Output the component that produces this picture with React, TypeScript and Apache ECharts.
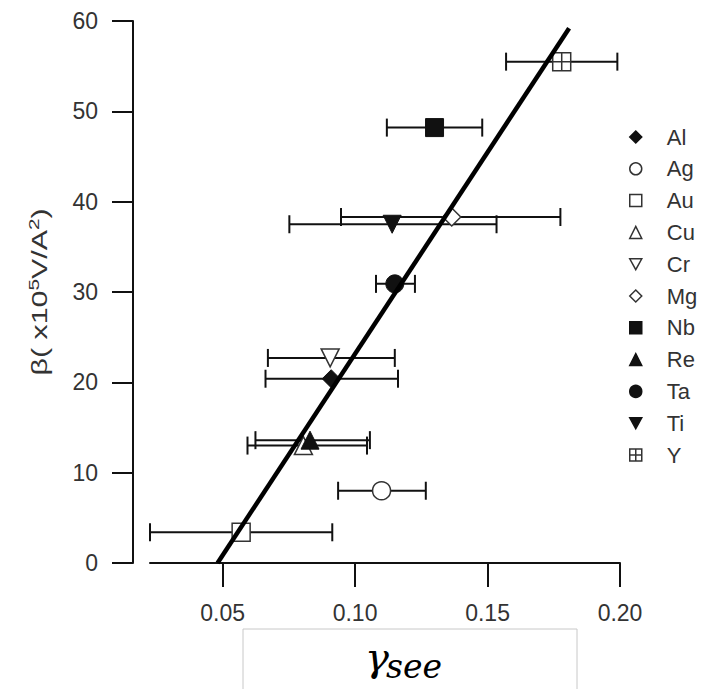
import React, { useEffect, useRef } from "react";
import * as echarts from "echarts";

const metals = ["Al", "Ag", "Au", "Cu", "Cr", "Mg", "Nb", "Re", "Ta", "Ti", "Y"];
const gammaSee = [0.091, 0.110, 0.057, 0.0805, 0.0906, 0.1365, 0.130, 0.083, 0.115, 0.114, 0.178];
const beta = [20.4, 8.0, 3.4, 13.0, 22.7, 38.3, 48.2, 13.6, 30.9, 37.5, 55.5];
const errLow = [0.0662, 0.0936, 0.0226, 0.0594, 0.0671, 0.0947, 0.112, 0.0624, 0.1079, 0.0752, 0.157];
const errHigh = [0.1162, 0.1267, 0.0914, 0.1045, 0.115, 0.1775, 0.148, 0.1056, 0.1226, 0.1534, 0.199];
const fitX = [0.0481, 0.1808];
const fitY = [0, 59.2];
const xTicks = [0.05, 0.1, 0.15, 0.2];

const DOWN_TRI = "path://M0,0L10,0L5,9Z";
const CROSS_SQ = "path://M0,0H10V10H0Z M5,0V10 M0,5H10";

const symbols: Record<string, { symbol: string; filled: boolean }> = {
  Al: { symbol: "diamond", filled: true },
  Ag: { symbol: "circle", filled: false },
  Au: { symbol: "rect", filled: false },
  Cu: { symbol: "triangle", filled: false },
  Cr: { symbol: DOWN_TRI, filled: false },
  Mg: { symbol: "diamond", filled: false },
  Nb: { symbol: "rect", filled: true },
  Re: { symbol: "triangle", filled: true },
  Ta: { symbol: "circle", filled: true },
  Ti: { symbol: DOWN_TRI, filled: true },
  Y: { symbol: CROSS_SQ, filled: false },
};

const FONT = "Liberation Sans, Arial, sans-serif";

export default function App() {
  const ref = useRef<HTMLDivElement>(null);
  useEffect(() => {
    if (!ref.current) return;
    const chart = echarts.init(ref.current, undefined, { renderer: "svg" });

    const scatterSeries = metals.map((m, i) => {
      const s = symbols[m];
      return {
        name: m,
        type: "scatter",
        z: 3,
        symbol: s.symbol,
        symbolSize: 18,
        itemStyle: s.filled
          ? { color: "#111", borderColor: "#111", borderWidth: 1, opacity: 1 }
          : { color: "#fff", borderColor: "#333", borderWidth: 1.5, opacity: 1 },
        data: [[gammaSee[i], beta[i]]],
      };
    });

    const errData = metals.map((m, i) => [gammaSee[i], beta[i], errLow[i], errHigh[i]]);

    const option: any = {
      animation: false,
      grid: { left: 150, right: 93, top: 21, bottom: 126 },
      xAxis: {
        type: "value",
        min: 0.0226,
        max: 0.2,
        axisLine: { show: true, lineStyle: { color: "#111", width: 2 } },
        axisTick: { show: true, customValues: xTicks, length: 24, lineStyle: { color: "#111", width: 2 } },
        axisLabel: {
          customValues: xTicks,
          formatter: (v: number) => v.toFixed(2),
          fontSize: 23,
          color: "#333",
          fontFamily: FONT,
          margin: 38,
        },
        splitLine: { show: false },
      },
      yAxis: {
        type: "value",
        min: 0,
        max: 60,
        interval: 10,
        offset: 17,
        axisLine: { show: true, lineStyle: { color: "#111", width: 2 } },
        axisTick: { show: true, length: 21, lineStyle: { color: "#111", width: 2 } },
        axisLabel: {
          fontSize: 23,
          color: "#333",
          fontFamily: FONT,
          margin: 35,
        },
        splitLine: { show: false },
      },
      legend: {
        orient: "vertical",
        left: 624,
        top: 120,
        itemWidth: 12,
        itemHeight: 12,
        itemGap: 7.8,
        data: metals,
        itemStyle: { borderWidth: 1.5, opacity: 1 },
        textStyle: {
          fontSize: 22,
          color: "#333",
          fontFamily: FONT,
          lineHeight: 24,
          padding: [0, 0, 0, 20],
        },
      },
      graphic: [
        {
          type: "text",
          x: 40,
          y: 292,
          rotation: Math.PI / 2,
          scaleX: 1.38,
          style: {
            text: "{a|β( x10}{s|5}{a|V/A}{s|2}{a|)}",
            align: "center",
            verticalAlign: "middle",
            rich: {
              a: { fontSize: 22, fontFamily: FONT, fill: "#333", lineHeight: 26 },
              s: { fontSize: 15, fontFamily: FONT, fill: "#333", lineHeight: 15, verticalAlign: "top" },
            },
          },
        },
        {
          type: "rect",
          shape: { x: 243, y: 629, width: 334, height: 80 },
          style: { fill: "#fff", stroke: "#c8c8c8", lineWidth: 1 },
        },
        {
          type: "text",
          x: 365,
          y: 657,
          style: {
            text: "γ",
            align: "left",
            verticalAlign: "middle",
            fontSize: 40,
            fontFamily: "DejaVu Serif",
            fontStyle: "italic",
            fill: "#000",
          },
        },
        {
          type: "text",
          x: 386,
          y: 666,
          style: {
            text: "see",
            align: "left",
            verticalAlign: "middle",
            fontSize: 33,
            fontFamily: "DejaVu Serif",
            fontStyle: "italic",
            fill: "#000",
          },
        },
      ],
      series: [
        {
          name: "errors",
          type: "custom",
          z: 2,
          encode: { x: 0, y: 1 },
          data: errData,
          renderItem: (params: any, api: any) => {
            const y = api.value(1);
            const lo = api.coord([api.value(2), y]);
            const hi = api.coord([api.value(3), y]);
            const h = 9;
            const st = { stroke: "#111", lineWidth: 2 };
            return {
              type: "group",
              children: [
                { type: "line", shape: { x1: lo[0], y1: lo[1], x2: hi[0], y2: hi[1] }, style: st },
                { type: "line", shape: { x1: lo[0], y1: lo[1] - h, x2: lo[0], y2: lo[1] + h }, style: st },
                { type: "line", shape: { x1: hi[0], y1: hi[1] - h, x2: hi[0], y2: hi[1] + h }, style: st },
              ],
            };
          },
        },
        ...scatterSeries,
        {
          name: "fit",
          type: "line",
          z: 5,
          symbol: "none",
          lineStyle: { color: "#000", width: 4.5 },
          data: fitX.map((x, i) => [x, fitY[i]]),
        },
      ],
    };
    chart.setOption(option);
    return () => chart.dispose();
  }, []);
  return (
    <div
      ref={ref}
      style={{ position: "absolute", left: 0, top: 0, width: 713, height: 689, background: "#fff" }}
    />
  );
}
